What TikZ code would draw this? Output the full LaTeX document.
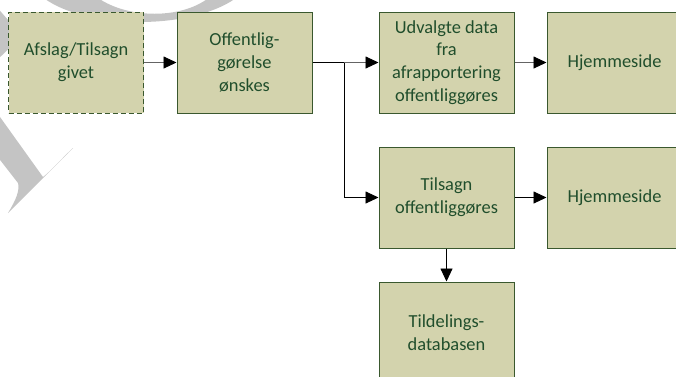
\documentclass[tikz,border=0pt]{standalone}
\usepackage{fontspec}
\setmainfont{Carlito}
\usepackage{tikz}
\usetikzlibrary{arrows.meta,positioning}

\definecolor{boxfill}{RGB}{211,211,173}
\definecolor{boxline}{RGB}{58,88,46}
\definecolor{boxtext}{RGB}{32,78,44}
\definecolor{wmark}{RGB}{196,196,196}
\definecolor{linegray}{RGB}{100,100,100}

\begin{document}
\begin{tikzpicture}[x=1pt,y=-1pt,
  stage/.style={draw=boxline, line width=1pt, fill=boxfill, text=boxtext,
    minimum width=135pt, minimum height=101pt, inner sep=0pt, align=center,
    font=\fontsize{18.4}{22.8}\selectfont},
  flow/.style={-{Triangle[length=13pt,width=12pt,color=black]}, line width=0.9pt}]
\useasboundingbox (0,0) rectangle (676,376);
\clip (0,0) rectangle (676,376);

% Watermark remains
\fill[wmark] (40,-5) .. controls (80,30) and (195,32) .. (240,-5) -- (212,-5)
  .. controls (185,20) and (125,20) .. (94,-5) -- cycle;
\fill[wmark] (-5,5) -- (22,36) -- (-5,62) -- cycle;
\fill[wmark] (-10,103) -- (43,177) .. controls (52,170) and (62,158) .. (73,148)
  -- (8,213) .. controls (16,200) and (20,190) .. (18,183) -- (-10,147) -- cycle;

% Boxes
\node[stage, dash pattern=on 5pt off 3pt] (given) at (76,62.5) {Afslag/Tilsagn\\givet};
\node[stage] (wish) at (244.5,62.5) {Offentlig-\\gørelse\\ønskes};
\node[stage] (data) at (446.5,62.5) {Udvalgte data\\fra\\afrapportering\\offentliggøres};
\node[stage] (web1) at (614.5,62.5) {Hjemmeside};
\node[stage] (grant) at (446.5,197.5) {Tilsagn\\offentliggøres};
\node[stage] (web2) at (614.5,197.5) {Hjemmeside};
\node[stage] (db) at (446.5,332.5) {Tildelings-\\databasen};

% Arrows
\coordinate (split) at (344,62.5);
\draw[flow, linegray] (given) -- (wish);
\draw[line width=0.9pt] (wish) -- (split);
\draw[flow, linegray] (split) -- (data);
\draw[flow] (split) |- (grant);
\draw[flow, linegray] (data) -- (web1);
\draw[flow] (grant) -- (web2);
\draw[flow] (grant) -- (db);
\end{tikzpicture}
\end{document}
